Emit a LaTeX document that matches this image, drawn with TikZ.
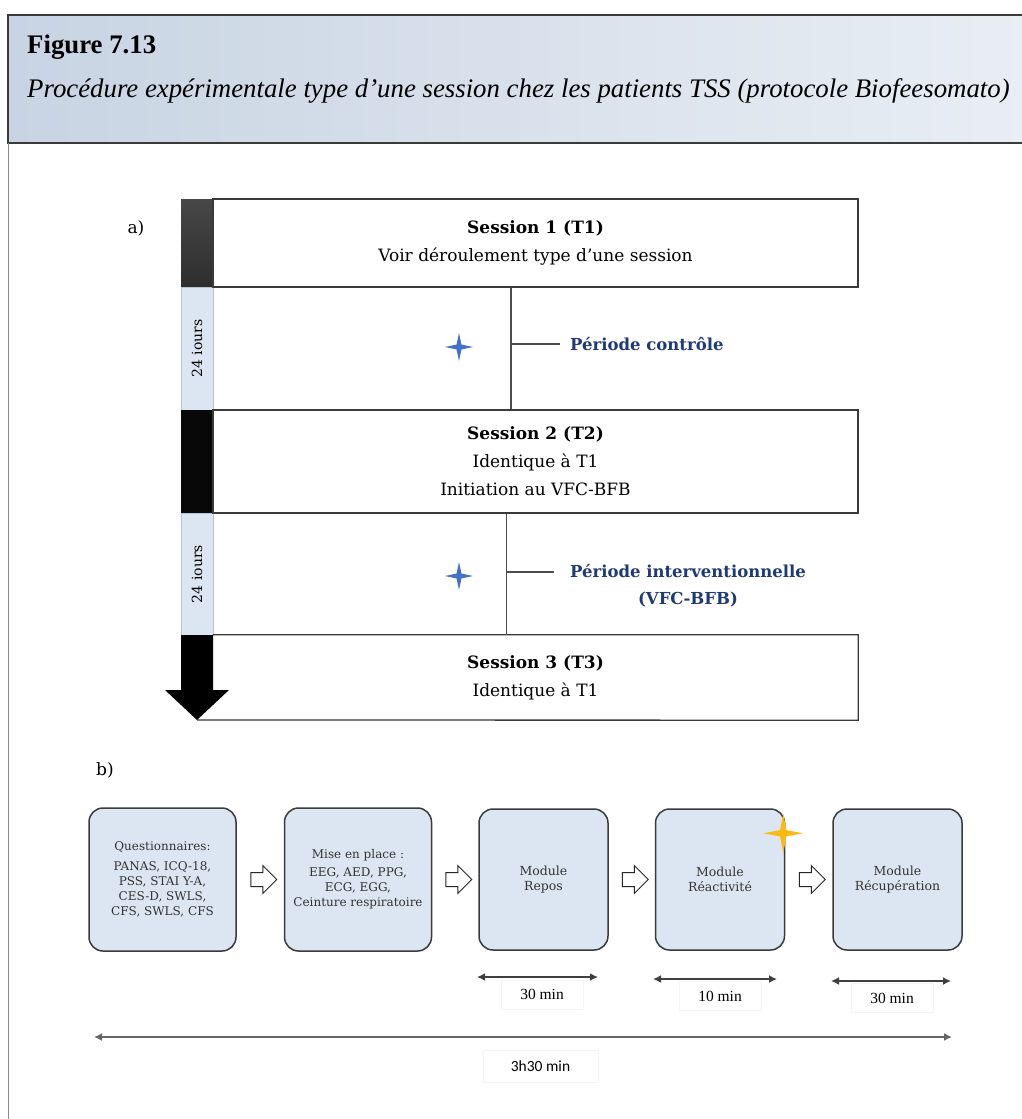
\documentclass[tikz,border=0pt]{standalone}
\usepackage{fontspec}
\setmainfont{DejaVu Serif}
\newfontfamily\timesfont{Liberation Serif}
\newfontfamily\calfont{Carlito}
\usepackage{tikz}
\usetikzlibrary{shapes.geometric, shapes.arrows, arrows.meta, positioning, calc}
\definecolor{hdrleft}{HTML}{C8D4E3}
\definecolor{hdrright}{HTML}{E9EEF4}
\definecolor{paleblue}{HTML}{DCE6F2}
\definecolor{paleedge}{HTML}{B4C4D8}
\definecolor{navytxt}{HTML}{1F3A75}
\definecolor{starblue}{HTML}{4472C4}
\definecolor{stargold}{HTML}{FDB913}
\definecolor{edgegray}{HTML}{3A3A3A}

\begin{document}
\begin{tikzpicture}[x=1pt, y=-1pt,
  session/.style={minimum width=645pt, inner sep=0pt, align=center, font=\fontsize{17}{28}\selectfont},
  period/.style={text=navytxt, font=\bfseries\fontsize{16.5}{27}\selectfont, align=center, inner ysep=0pt},
  vline/.style={draw=black!70, line width=1.2pt},
  days/.style={rotate=90, font=\fontsize{14}{16}\selectfont},
  bbox/.style={draw=edgegray, line width=1.5pt, rounded corners=14pt, fill=paleblue, align=center,
    inner sep=0pt, text=black!80, font=\fontsize{12.5}{15}\selectfont, minimum width=129pt, minimum height=141pt},
  openarrow/.style={single arrow, draw=black!85, fill=white, line width=1pt, minimum height=26pt,
    minimum width=27pt, single arrow head extend=7pt, inner sep=6.5pt},
  bluestar/.style={star, star points=4, star point ratio=4, minimum size=28pt, inner sep=0pt, fill=starblue},
  goldstar/.style={star, star points=4, star point ratio=4.5, minimum size=40pt, inner sep=0pt, fill=stargold},
  span/.style={draw=black!75, line width=1.6pt, {Latex[length=8pt,width=8pt]}-{Latex[length=8pt,width=8pt]}},
  durlbl/.style={draw=black!4, line width=0.5pt, inner sep=0pt}
]

  \useasboundingbox (0,0) rectangle (1021,1119);
  \fill[white] (0,0) rectangle (1021,1119);

  % Header
  \shade[left color=hdrleft, right color=hdrright] (8,15) rectangle (1030,143);
  \draw[edgegray, line width=1.5pt] (8,15) rectangle (1030,143);
  \node[anchor=base west, inner sep=0pt, font=\timesfont\bfseries\fontsize{26.8}{32}\selectfont] (figno) at (27,53) {Figure 7.13};
  \node[anchor=base west, inner sep=0pt, font=\timesfont\itshape\fontsize{26.8}{32}\selectfont] (figcap) at (27,97)
    {Procédure expérimentale type d’une session chez les patients TSS (protocole Biofeesomato)};
  \draw[black!45, line width=0.8pt] (8,143) -- (8,1119);

  % a) timeline
  \node[font=\fontsize{17}{20}\selectfont] (lbla) at (136,228) {a)};

  \shade[top color=black!72, bottom color=black!82] (181,199) rectangle (213,287);
  \filldraw[fill=paleblue, draw=paleedge, line width=0.8pt] (181,287) rectangle (213,410);
  \fill[black!97] (181,410) rectangle (213,513);
  \filldraw[fill=paleblue, draw=paleedge, line width=0.8pt] (181,513) rectangle (213,635);
  \fill[black] (181,635) -- (213,635) -- (213,690) -- (229,690) -- (197,720) -- (165,690) -- (181,690) -- cycle;
  \node[days] (days1) at (197,348.5) {24 iours};
  \node[days] (days2) at (197,574) {24 iours};

  \node[session, draw=edgegray, line width=1.3pt, minimum height=88pt] (s1) at (535.5,243)
    {\textbf{Session 1 (T1)}\\Voir déroulement type d’une session};
  \node[session, draw=edgegray, line width=1.3pt, minimum height=103pt] (s2) at (535.5,461.5)
    {\textbf{Session 2 (T2)}\\Identique à T1\\Initiation au VFC-BFB};
  \node[session, minimum height=85pt] (s3) at (535.5,677.5)
    {\textbf{Session 3 (T3)}\\Identique à T1};
  \coordinate (tip) at (197,720);
  \draw[edgegray, line width=1.3pt] (tip) -- (s3.south east) -- (s3.north east) -- (s3.north west);

  % periods
  \coordinate (c1) at (511,344);
  \draw[vline] (s1.south -| c1) -- (s2.north -| c1);
  \node[period, anchor=west, inner xsep=10pt] (pc) at (560,344) {Période contrôle};
  \draw[vline] (c1) -- (pc.west);
  \node[bluestar] (st1) at (459,347) {};

  \coordinate (c2) at (506.5,572);
  \draw[vline] (s2.south -| c2) -- (s3.north -| c2);
  \node[period, inner xsep=15.5pt] (pi) at (688,585.5) {Période interventionnelle\\(VFC-BFB)};
  \draw[vline] (c2) -- (c2 -| pi.west);
  \node[bluestar] (st2) at (459,576) {};

  % b) modules
  \node[font=\fontsize{17}{20}\selectfont] (lblb) at (105,770) {b)};

  \node[bbox, minimum width=147pt, minimum height=143pt, font=\fontsize{12}{15}\selectfont] (quest) at (162.5,879.5)
    {Questionnaires:\\[5pt]PANAS, ICQ-18,\\PSS, STAI Y-A,\\CES-D, SWLS,\\CFS, SWLS, CFS};
  \node[bbox, minimum width=147pt, minimum height=143pt, font=\fontsize{12}{15}\selectfont, right=47pt of quest] (setup)
    {Mise en place :\\[3pt]EEG, AED, PPG,\\ECG, EGG,\\Ceinture respiratoire};
  \node[bbox, right=46pt of setup] (rest) {Module\\Repos};
  \node[bbox, right=46pt of rest] (react) {Module\\Réactivité};
  \node[bbox, right=47pt of react] (recov) {Module\\Récupération};

  \node[openarrow] (ar1) at ($(quest.east)!.5!(setup.west)$) {};
  \node[openarrow] (ar2) at ($(setup.east)!.5!(rest.west)$) {};
  \node[openarrow] (ar3) at ($(rest.east)!.5!(react.west)$) {};
  \node[openarrow] (ar4) at ($(react.east)!.5!(recov.west)$) {};
  \node[goldstar] (gstar) at ($(react.north east)+(-2,25)$) {};

  % durations
  \coordinate (t1a) at (477,977); \coordinate (t1b) at (598,977);
  \coordinate (t2a) at (653,979); \coordinate (t2b) at (777,979);
  \coordinate (t3a) at (831,981); \coordinate (t3b) at (951,981);
  \draw[span] (t1a) -- (t1b);
  \draw[span] (t2a) -- (t2b);
  \draw[span] (t3a) -- (t3b);
  \node[durlbl, minimum width=82pt, minimum height=29pt, font=\timesfont\fontsize{15.5}{18}\selectfont] (t1) at (542,994.5) {30 min};
  \node[durlbl, minimum width=82pt, minimum height=29pt, font=\timesfont\fontsize{15.5}{18}\selectfont] (t2) at (720,996) {10 min};
  \node[durlbl, minimum width=82pt, minimum height=29pt, font=\timesfont\fontsize{15.5}{18}\selectfont] (t3) at (892,998) {30 min};

  \coordinate (tta) at (94,1037); \coordinate (ttb) at (952,1037);
  \draw[span, draw=black!60, line width=2.4pt] (tta) -- (ttb);
  \node[durlbl, minimum width=115pt, minimum height=32pt, font=\calfont\fontsize{15.5}{18}\selectfont] (tt) at (540.5,1066) {3h30 min};

\end{tikzpicture}
\end{document}
